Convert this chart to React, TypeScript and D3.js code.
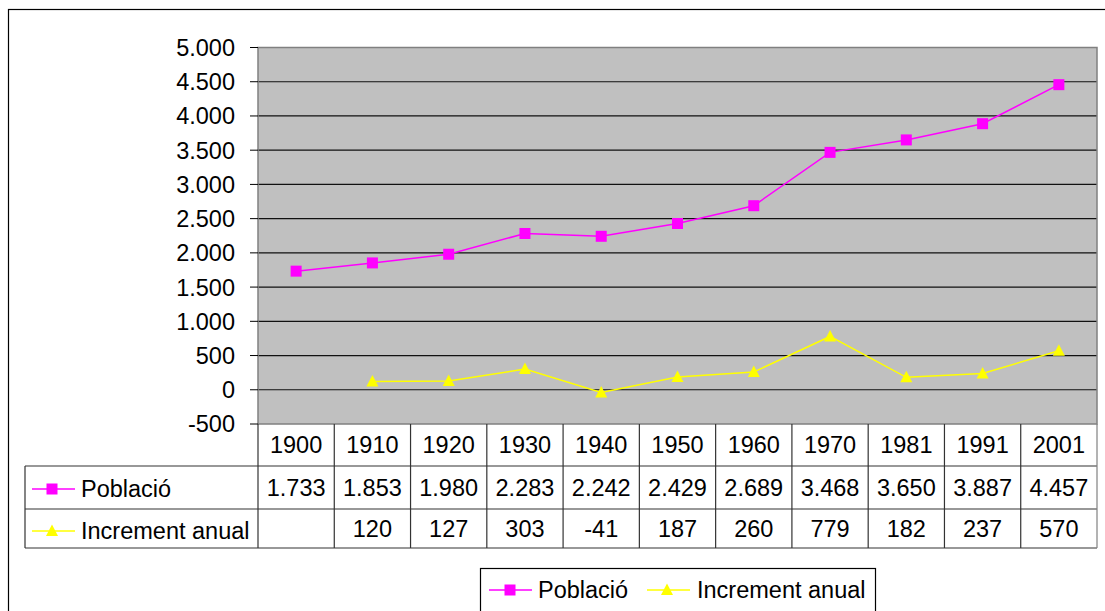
import React from "react";
import * as d3 from "d3";

const years = ["1900", "1910", "1920", "1930", "1940", "1950", "1960", "1970", "1981", "1991", "2001"];
const poblacio = [1733, 1853, 1980, 2283, 2242, 2429, 2689, 3468, 3650, 3887, 4457];
const increment: (number | null)[] = [null, 120, 127, 303, -41, 187, 260, 779, 182, 237, 570];
const yTicks = [-500, 0, 500, 1000, 1500, 2000, 2500, 3000, 3500, 4000, 4500, 5000];
const seriesNames = ["Població", "Increment anual"];

const fmt = (v: number) => {
  const s = Math.abs(v).toString();
  const withDots = s.replace(/\B(?=(\d{3})+(?!\d))/g, ".");
  return (v < 0 ? "-" : "") + withDots;
};

const FONT = "'Liberation Sans', Arial, sans-serif";
const FS = 23.5;
const MAG = "#FF00FF";
const YEL = "#FFFF00";

function Square({ x, y }: { x: number; y: number }) {
  return <rect x={x - 5.5} y={y - 5.5} width={11} height={11} fill={MAG} />;
}
function Tri({ x, y }: { x: number; y: number }) {
  return <path d={`M${x},${y - 6.5}L${x + 6},${y + 5}L${x - 6},${y + 5}Z`} fill={YEL} />;
}

export default function App() {
  const left = 258, right = 1097, top = 47.5, bottom = 424;
  const tableLeft = 25;
  const rowBounds = [424, 466, 509, 548];

  const x = d3.scaleBand<string>().domain(years).range([left, right]).padding(0);
  const cx = (yr: string) => (x(yr) as number) + x.bandwidth() / 2;
  const y = d3.scaleLinear().domain([-500, 5000]).range([bottom, top]);

  const popLine = d3.line<number>().x((_, i) => cx(years[i])).y((d) => y(d));
  const incLine = d3
    .line<number | null>()
    .defined((d) => d !== null)
    .x((_, i) => cx(years[i]))
    .y((d) => y(d as number));

  return (
    <svg
      width={1105}
      height={611}
      style={{ position: "fixed", left: 0, top: 0, display: "block", background: "#fff" }}
      fontFamily={FONT}
    >
      {/* outer frame */}
      <rect x={8.5} y={9.5} width={1110} height={620} fill="#fff" stroke="#000" strokeWidth={1.2} />

      {/* plot area */}
      <rect x={left} y={top} width={right - left} height={bottom - top} fill="#C0C0C0" />
      {yTicks.filter((t) => t !== 5000 && t !== -500).map((t) => (
        <line key={t} x1={left} x2={right} y1={y(t)} y2={y(t)} stroke="#111" strokeWidth={1.2} />
      ))}
      <rect x={left} y={top} width={right - left} height={bottom - top} fill="none" stroke="#808080" strokeWidth={1.5} />

      {/* y axis ticks & labels */}
      {yTicks.map((t) => (
        <g key={t}>
          <line x1={250} x2={left} y1={y(t)} y2={y(t)} stroke="#000" strokeWidth={1} />
          <text x={235} y={y(t)} dy="0.36em" textAnchor="end" fontSize={FS} fill="#000">
            {fmt(t)}
          </text>
        </g>
      ))}

      {/* lines */}
      <path d={popLine(poblacio) || ""} fill="none" stroke={MAG} strokeWidth={1.5} />
      <path d={incLine(increment) || ""} fill="none" stroke={YEL} strokeWidth={1.5} />
      {poblacio.map((v, i) => (
        <Square key={i} x={cx(years[i])} y={y(v)} />
      ))}
      {increment.map((v, i) => (v === null ? null : <Tri key={i} x={cx(years[i])} y={y(v)} />))}

      {/* data table */}
      <g stroke="#333" strokeWidth={1.2} fill="none">
        <line x1={left} x2={right} y1={rowBounds[1]} y2={rowBounds[1]} />
        <line x1={tableLeft} x2={left} y1={rowBounds[1]} y2={rowBounds[1]} />
        <line x1={tableLeft} x2={right} y1={rowBounds[2]} y2={rowBounds[2]} />
        <line x1={tableLeft} x2={right} y1={rowBounds[3]} y2={rowBounds[3]} />
        <line x1={tableLeft} x2={tableLeft} y1={rowBounds[1]} y2={rowBounds[3]} />
        {years.map((yr) => (
          <line key={yr} x1={x(yr) as number} x2={x(yr) as number} y1={rowBounds[0]} y2={rowBounds[3]} />
        ))}
        <line x1={right} x2={right} y1={rowBounds[0]} y2={rowBounds[3]} stroke="#808080" />
      </g>
      {years.map((yr, i) => (
        <g key={yr} fontSize={FS} textAnchor="middle" fill="#000">
          <text x={cx(yr)} y={(rowBounds[0] + rowBounds[1]) / 2} dy="0.36em">{yr}</text>
          <text x={cx(yr)} y={(rowBounds[1] + rowBounds[2]) / 2} dy="0.36em">{fmt(poblacio[i])}</text>
          {increment[i] !== null && (
            <text x={cx(yr)} y={(rowBounds[2] + rowBounds[3]) / 2} dy="0.36em">{fmt(increment[i] as number)}</text>
          )}
        </g>
      ))}
      {/* row headers */}
      <g fontSize={FS} fill="#000">
        <line x1={32} x2={75} y1={489} y2={489} stroke={MAG} strokeWidth={1.5} />
        <Square x={52} y={489} />
        <text x={81} y={489} dy="0.36em">{seriesNames[0]}</text>
        <line x1={32} x2={75} y1={531} y2={531} stroke={YEL} strokeWidth={1.5} />
        <Tri x={52} y={531} />
        <text x={81} y={531} dy="0.36em">{seriesNames[1]}</text>
      </g>

      {/* legend */}
      <rect x={480.5} y={568.5} width={395} height={60} fill="#fff" stroke="#000" strokeWidth={1.2} />
      <g fontSize={FS} fill="#000">
        <line x1={489} x2={532} y1={590} y2={590} stroke={MAG} strokeWidth={1.5} />
        <Square x={510} y={590} />
        <text x={538} y={590} dy="0.36em">{seriesNames[0]}</text>
        <line x1={647} x2={690} y1={590} y2={590} stroke={YEL} strokeWidth={1.5} />
        <Tri x={667} y={590} />
        <text x={697} y={590} dy="0.36em">{seriesNames[1]}</text>
      </g>
    </svg>
  );
}
